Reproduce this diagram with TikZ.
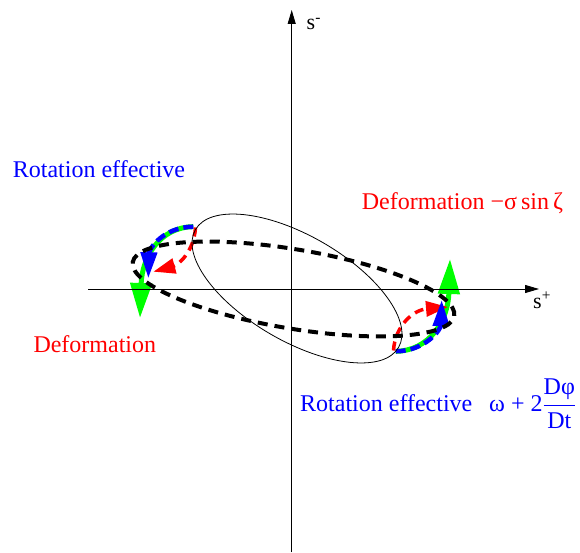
\documentclass[tikz,border=0pt]{standalone}
\usepackage{fontspec}
\setmainfont{Liberation Serif}
\usetikzlibrary{arrows.meta}
\definecolor{pgreen}{RGB}{0,255,0}
\definecolor{pblue}{RGB}{0,0,255}
\definecolor{pred}{RGB}{255,0,0}
\tikzset{
  axisline/.style={line width=0.9pt, -{Triangle[length=14pt,width=8pt]}},
  labeltext/.style={inner sep=0pt, font=\fontsize{24}{28}\selectfont},
  axislabel/.style={inner sep=0pt, font=\fontsize{22}{26}\selectfont, anchor=base west},
  greenarrow/.style={pgreen, line width=5pt, -{Triangle[length=35pt,width=21pt]}},
  bluearrow/.style={pblue, line width=4.5pt, dash pattern=on 10pt off 5pt, -{Triangle[length=26pt,width=16pt]}},
  redarrow/.style={pred, line width=3.5pt, dash pattern=on 9pt off 6pt, -{Triangle[length=22pt,width=15pt]}}
}
\begin{document}
\begin{tikzpicture}[x=1pt,y=1pt]
\useasboundingbox (0,0) rectangle (580,552);
% points of the coloured arrows
\coordinate (gl0) at (193.3,325.3); \coordinate (gl1) at (140,234);
\coordinate (bl1) at (148.3,273.7);
\coordinate (rl0) at (195.5,324.5); \coordinate (rl1) at (153.3,280.3);
\coordinate (gr0) at (395.7,200.7); \coordinate (gr1) at (450,293);
\coordinate (br1) at (441.7,252);
\coordinate (rr0) at (393.5,201.5); \coordinate (rr1) at (448,245);
% left coloured arrows
\draw[greenarrow] (gl0) .. controls (160,325) and (142,295) .. (gl1);
\draw[redarrow] (rl0) .. controls (194,300) and (178,287) .. (rl1);
\draw[bluearrow] (gl0) .. controls (163,325) and (149,303) .. (bl1);
% right coloured arrows
\draw[greenarrow] (gr0) .. controls (429,201) and (448,231) .. (gr1);
\draw[redarrow] (rr0) .. controls (395,226) and (413,242) .. (rr1);
\draw[bluearrow] (gr0) .. controls (426,201) and (441,223) .. (br1);
% ellipses
\draw[line width=0.8pt, rotate around={-30.1:(297,263.5)}] (297,263.5) ellipse [x radius=117.4, y radius=52.7];
\draw[line width=4pt, dash pattern=on 10pt off 7pt, rotate around={-9.5:(293.5,263)}] (293.5,263) ellipse [x radius=163, y radius=39.6];
% axes
\coordinate (vb) at (291.7,0);
\coordinate (vt) at (291.7,542);
\coordinate (hl) at (88,263);
\coordinate (hr) at (539,263);
\draw[axisline] (vb) -- (vt);
\draw[axisline] (hl) -- (hr);
\node[axislabel] (sminus) at (306.5,522) {s\textsuperscript{-}};
\node[axislabel] (splus) at (533,244) {s\textsuperscript{+}};
% labels
\node[labeltext, pblue, anchor=base west] (rot1) at (12.7,374.7) {Rotation effective};
\node[labeltext, pred, anchor=base west] (def1) at (33.3,199.7) {Deformation};
\node[labeltext, pred, anchor=base west] (def2) at (361.7,342.7) {Deformation −σ\,sin\,ζ};
\node[labeltext, pblue, anchor=base west] (rot2) at (300,140.3) {Rotation effective};
\node[labeltext, pblue, anchor=base west] (rot2m) at (489,140.3) {ω + 2$\displaystyle\frac{\hbox{Dφ}}{\hbox{Dt}}$};
\end{tikzpicture}
\end{document}
